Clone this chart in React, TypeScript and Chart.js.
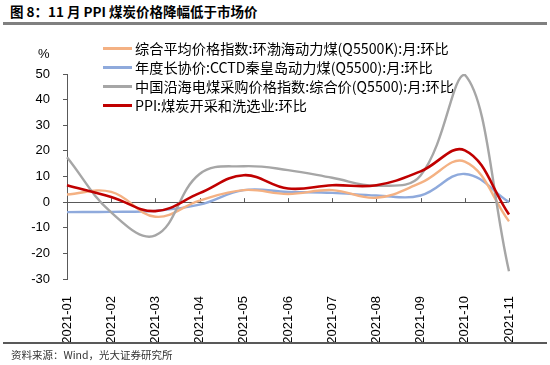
import React, { useEffect, useRef } from "react";
import { Chart, registerables } from "chart.js";

Chart.register(...registerables);

const categories = [
  "2021-01", "2021-02", "2021-03", "2021-04", "2021-05", "2021-06",
  "2021-07", "2021-08", "2021-09", "2021-10", "2021-11",
];
const bohaiIndex = [3, 4, -5.7, 0.6, 4.7, 3.2, 4.7, 1.7, 7.5, 15.8, -7.5];
const cctdContract = [-3.9, -3.8, -3.4, -1, 4.7, 4, 3.6, 2.6, 2.6, 11, 0];
const coastalIndex = [17.5, -4, -13, 11, 14, 12.5, 9.5, 6.4, 10.4, 49.7, -27];
const ppiCoal = [6.6, 2, -3.5, 3.5, 10.5, 5.3, 6.6, 6.6, 12, 20.2, -4.8];

const seriesNames = [
  "综合平均价格指数:环渤海动力煤(Q5500K):月:环比",
  "年度长协价:CCTD秦皇岛动力煤(Q5500):月:环比",
  "中国沿海电煤采购价格指数:综合价(Q5500):月:环比",
  "PPI:煤炭开采和洗选业:环比",
];
const seriesColors = ["#F4B183", "#8FAADC", "#A6A6A6", "#C00000"];
const seriesData = [bohaiIndex, cctdContract, coastalIndex, ppiCoal];
const seriesOrder = [3, 4, 2, 1];

const yMin = -30;
const yMax = 50;
const yStep = 10;

const titleText = "图 8：11 月 PPI 煤炭价格降幅低于市场价";
const sourceText = "资料来源：Wind，光大证券研究所";
const unitText = "%";

const AXIS_COLOR = "#595959";
const CJK = '"Noto Sans CJK SC", "Noto Sans", sans-serif';
const NUM = '"Liberation Sans", Arial, sans-serif';

const zeroTicksPlugin = {
  id: "zeroTicks",
  beforeDatasetsDraw(chart: any) {
    const x = chart.scales.x;
    const y = chart.scales.y;
    const y0 = y.getPixelForValue(0);
    const ctx = chart.ctx;
    ctx.save();
    ctx.strokeStyle = AXIS_COLOR;
    ctx.lineWidth = 1;
    ctx.beginPath();
    for (let i = 0; i < categories.length; i++) {
      const px = Math.round(x.getPixelForValue(i)) + 0.5;
      ctx.moveTo(px, y0);
      ctx.lineTo(px, y0 - 4);
    }
    ctx.stroke();
    ctx.restore();
  },
};

export default function App() {
  const canvasRef = useRef<HTMLCanvasElement | null>(null);

  useEffect(() => {
    const canvas = canvasRef.current;
    if (!canvas) return;
    const chart = new Chart(canvas, {
      type: "line",
      data: {
        labels: categories,
        datasets: seriesData.map((d, i) => ({
          label: seriesNames[i],
          data: d,
          borderColor: seriesColors[i],
          backgroundColor: seriesColors[i],
          borderWidth: i === 3 ? 2.6 : 2.4,
          pointRadius: 0,
          tension: 0.4,
          fill: false,
          order: seriesOrder[i],
        })),
      },
      options: {
        responsive: false,
        animation: false,
        devicePixelRatio: 1,
        layout: { padding: { top: 74, right: 41, bottom: 0, left: 0 } },
        plugins: {
          legend: { display: false },
          tooltip: { enabled: false },
          title: { display: false },
        },
        scales: {
          x: {
            type: "category",
            offset: false,
            grid: { display: false },
            border: { display: false },
            ticks: {
              autoSkip: false,
              maxRotation: 90,
              minRotation: 90,
              padding: 9,
              color: "#000",
              font: { family: NUM, size: 13 },
            },
            afterFit: (s: any) => {
              s.height = 86;
            },
          },
          y: {
            min: yMin,
            max: yMax,
            ticks: {
              stepSize: yStep,
              padding: 13,
              color: "#000",
              font: { family: NUM, size: 13 },
            },
            grid: {
              color: (c: any) => (c.tick && c.tick.value === 0 ? AXIS_COLOR : "rgba(0,0,0,0)"),
              tickColor: AXIS_COLOR,
              tickLength: 4,
              lineWidth: 1,
            },
            border: { display: true, color: AXIS_COLOR, width: 1 },
            afterFit: (s: any) => {
              s.width = 67;
            },
          },
        },
      },
      plugins: [zeroTicksPlugin],
    });
    return () => chart.destroy();
  }, []);

  return (
    <div
      style={{
        position: "fixed",
        left: 0,
        top: 0,
        width: 550,
        height: 365,
        background: "#fff",
        fontFamily: CJK,
        overflow: "hidden",
      }}
    >
      <div
        style={{
          position: "absolute",
          left: 10,
          top: 2,
          fontSize: 13.5,
          fontWeight: 700,
          lineHeight: "19px",
          color: "#000",
          whiteSpace: "nowrap",
        }}
      >
        {titleText}
      </div>
      <div style={{ position: "absolute", left: 3, top: 22, width: 544, height: 3, background: "#808080" }} />
      <canvas
        ref={canvasRef}
        width={550}
        height={365}
        style={{ position: "absolute", left: 0, top: 0, width: 550, height: 365 }}
      />
      <div
        style={{
          position: "absolute",
          left: 38,
          top: 46,
          fontSize: 13,
          fontFamily: NUM,
          color: "#000",
          lineHeight: "16px",
        }}
      >
        {unitText}
      </div>
      <div style={{ position: "absolute", left: 103, top: 39 }}>
        {seriesNames.map((n, i) => (
          <div
            key={n}
            style={{ display: "flex", alignItems: "center", height: 19, whiteSpace: "nowrap" }}
          >
            <div style={{ width: 29, height: i === 3 ? 2.6 : 2.4, background: seriesColors[i], marginRight: 3 }} />
            <span style={{ fontSize: 14.2, lineHeight: "19px", color: "#000" }}>{n}</span>
          </div>
        ))}
      </div>
      <div style={{ position: "absolute", left: 3, top: 342, width: 544, height: 2, background: "#595959" }} />
      <div
        style={{
          position: "absolute",
          left: 11,
          top: 347,
          fontSize: 10.5,
          lineHeight: "16px",
          color: "#333",
          whiteSpace: "nowrap",
        }}
      >
        {sourceText}
      </div>
    </div>
  );
}
